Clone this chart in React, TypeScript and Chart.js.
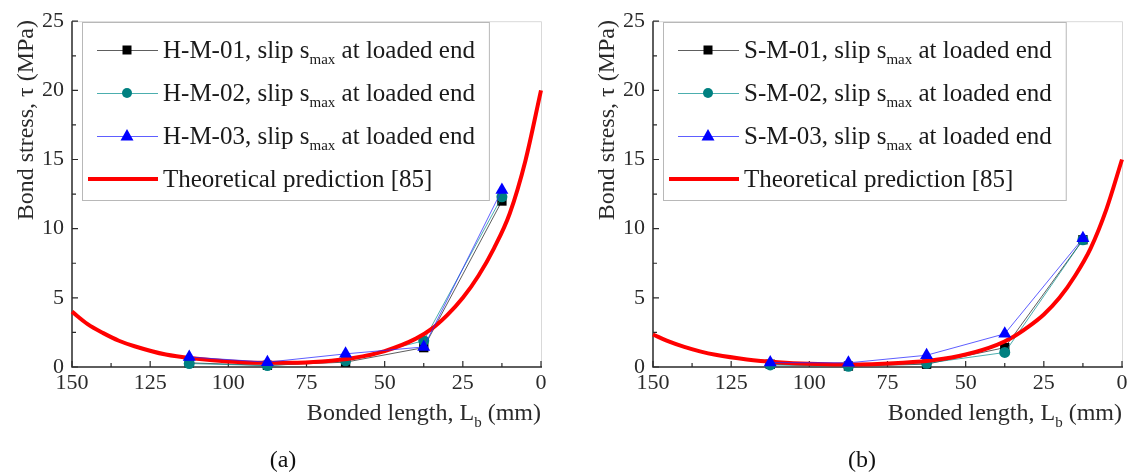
import React, { useEffect, useRef } from "react";
import { Chart, registerables } from "chart.js";

Chart.register(...registerables);

// Bonded positions of the measured points (mm)
const bondedPositions = [112.5, 87.5, 62.5, 37.5, 12.5];

// Panel (a): H-M specimens, bond stress (MPa)
const namesA = ["H-M-01", "H-M-02", "H-M-03"];
const hm01 = [0.3, 0.12, 0.35, 1.4, 12.0];
const hm02 = [0.25, 0.1, 0.45, 1.9, 12.3];
const hm03 = [0.72, 0.35, 0.95, 1.45, 12.8];

// Panel (b): S-M specimens, bond stress (MPa)
const namesB = ["S-M-01", "S-M-02", "S-M-03"];
const sm01 = [0.2, 0.07, 0.2, 1.4, 9.2];
const sm02 = [0.15, 0.05, 0.27, 1.05, 9.2];
const sm03 = [0.32, 0.3, 0.85, 2.4, 9.3];

// Theoretical prediction [85]
const theoryX = [150, 145, 140, 135, 130, 120, 110, 100, 90, 80, 70, 60, 50, 40, 35, 30, 25, 20, 15, 10, 5, 0];
const theoryA = [4.0, 3.1, 2.45, 1.9, 1.5, 0.9, 0.6, 0.4, 0.3, 0.3, 0.4, 0.65, 1.15, 2.05, 2.75, 3.75, 5.0, 6.6, 8.6, 11.1, 14.9, 20.0];
const theoryB = [2.35, 1.85, 1.45, 1.13, 0.88, 0.55, 0.35, 0.23, 0.18, 0.2, 0.3, 0.5, 0.9, 1.6, 2.15, 2.9, 3.8, 5.0, 6.6, 8.6, 11.4, 15.0];

// Axis ticks
const xTicks = [150, 125, 100, 75, 50, 25, 0];
const yTicks = [0, 5, 10, 15, 20, 25];
const xMinorStep = 12.5;
const yMinorStep = 2.5;

const theoryLabel = "Theoretical prediction [85]";
const xTitle = [{ text: "Bonded length, L" }, { text: "b", sub: true }, { text: " (mm)" }];
const yTitle = "Bond stress, \u03c4 (MPa)";

const FONT = '"Liberation Serif", "Times New Roman", serif';
const CANVAS_W = 567;
const CANVAS_H = 476;
const PLOT_TOP = 20;
const PLOT_BOTTOM = 367;

type Part = { text: string; sub?: boolean };

function partsWidth(ctx: CanvasRenderingContext2D, parts: Part[], size: number, subSize: number) {
  let w = 0;
  for (const p of parts) {
    ctx.font = `${p.sub ? subSize : size}px ${FONT}`;
    w += ctx.measureText(p.text).width;
  }
  return w;
}

function drawParts(
  ctx: CanvasRenderingContext2D,
  parts: Part[],
  x: number,
  y: number,
  size: number,
  subSize: number,
  subShift: number,
  color: string
) {
  let cx = x;
  ctx.fillStyle = color;
  ctx.textAlign = "left";
  ctx.textBaseline = "alphabetic";
  for (const p of parts) {
    ctx.font = `${p.sub ? subSize : size}px ${FONT}`;
    ctx.fillText(p.text, cx, p.sub ? y + subShift : y);
    cx += ctx.measureText(p.text).width;
  }
}

type Marker = "rect" | "circle" | "triangle";

function drawMarker(ctx: CanvasRenderingContext2D, kind: Marker, x: number, y: number, color: string) {
  ctx.fillStyle = color;
  ctx.beginPath();
  if (kind === "rect") {
    ctx.rect(x - 4.5, y - 4.5, 9, 9);
  } else if (kind === "circle") {
    ctx.arc(x, y, 5, 0, Math.PI * 2);
  } else {
    ctx.moveTo(x, y - 7);
    ctx.lineTo(x + 6.5, y + 4.5);
    ctx.lineTo(x - 6.5, y + 4.5);
    ctx.closePath();
  }
  ctx.fill();
}

const seriesStyles = [
  { line: "rgba(40,40,40,0.75)", fill: "#000000", marker: "rect" as Marker, radius: 6.6 },
  { line: "rgba(0,140,140,0.7)", fill: "#008080", marker: "circle" as Marker, radius: 5.5 },
  { line: "rgba(40,40,255,0.75)", fill: "#0000ff", marker: "triangle" as Marker, radius: 7.5 },
];

type PanelProps = {
  names: string[];
  series: number[][];
  theory: number[];
  chartLeft: number;
  chartRight: number;
};

function BondChart({ names, series, theory, chartLeft, chartRight }: PanelProps) {
  const ref = useRef<HTMLCanvasElement | null>(null);

  useEffect(() => {
    const canvas = ref.current;
    if (!canvas) return;

    const decorations = {
      id: "decorations",
      beforeDatasetsDraw(chart: any) {
        const { ctx, chartArea } = chart;
        const { left, right, top, bottom } = chartArea;
        const xs = chart.scales.x;
        const ys = chart.scales.y;
        ctx.save();
        // light frame on top and right
        ctx.strokeStyle = "#d9d9d9";
        ctx.lineWidth = 1;
        ctx.beginPath();
        ctx.moveTo(left, top + 0.5);
        ctx.lineTo(right + 0.5, top + 0.5);
        ctx.lineTo(right + 0.5, bottom);
        ctx.stroke();
        // main axes
        ctx.strokeStyle = "#2a2a2a";
        ctx.lineWidth = 1.5;
        ctx.beginPath();
        ctx.moveTo(left, top);
        ctx.lineTo(left, bottom);
        ctx.lineTo(right + 1, bottom);
        ctx.stroke();
        // inward ticks
        ctx.lineWidth = 1.2;
        ctx.beginPath();
        for (let v = 0; v <= 150.001; v += xMinorStep) {
          const px = xs.getPixelForValue(v);
          const len = Math.abs(v % 25) < 1e-6 ? 6 : 4;
          ctx.moveTo(px, bottom);
          ctx.lineTo(px, bottom - len);
        }
        for (let v = 0; v <= 25.001; v += yMinorStep) {
          const py = ys.getPixelForValue(v);
          const len = Math.abs(v % 5) < 1e-6 ? 6 : 4;
          ctx.moveTo(left, py);
          ctx.lineTo(left + len, py);
        }
        ctx.stroke();
        ctx.restore();
      },
      afterDraw(chart: any) {
        const { ctx, chartArea } = chart;
        const { left, right, bottom } = chartArea;
        ctx.save();

        // axis titles
        const titleSize = 24;
        const xw = partsWidth(ctx, xTitle, titleSize, 15);
        drawParts(ctx, xTitle, right - xw, bottom + 53, titleSize, 15, 7, "#2a2a2a");

        ctx.save();
        ctx.font = `${titleSize}px ${FONT}`;
        ctx.translate(left - 45, PLOT_TOP);
        ctx.rotate(-Math.PI / 2);
        ctx.textAlign = "right";
        ctx.textBaseline = "middle";
        ctx.fillStyle = "#2a2a2a";
        ctx.fillText(yTitle, 0, 0);
        ctx.restore();

        // legend
        const legendSize = 25;
        const subSize = 15;
        const rows: Part[][] = names.map((n) => [
          { text: `${n}, slip s` },
          { text: "max", sub: true },
          { text: " at loaded end" },
        ]);
        rows.push([{ text: theoryLabel }]);
        let maxW = 0;
        for (const r of rows) maxW = Math.max(maxW, partsWidth(ctx, r, legendSize, subSize));
        const boxX = left + 10;
        const boxY = 22;
        const textX = boxX + 81;
        const boxW = textX - boxX + maxW + 14;
        const boxH = 178;
        ctx.fillStyle = "#ffffff";
        ctx.fillRect(boxX, boxY, boxW, boxH);
        ctx.strokeStyle = "#b8b8b8";
        ctx.lineWidth = 1;
        ctx.strokeRect(boxX + 0.5, boxY + 0.5, boxW, boxH);

        const rowY = [50, 93, 136, 179];
        rows.forEach((r, i) => {
          const cy = rowY[i];
          if (i < 3) {
            const st = seriesStyles[i];
            ctx.strokeStyle = st.line;
            ctx.lineWidth = 1;
            ctx.beginPath();
            ctx.moveTo(boxX + 15, cy + 0.5);
            ctx.lineTo(boxX + 76, cy + 0.5);
            ctx.stroke();
            drawMarker(ctx, st.marker, boxX + 45, cy, st.fill);
          } else {
            ctx.strokeStyle = "#ff0000";
            ctx.lineWidth = 4;
            ctx.beginPath();
            ctx.moveTo(boxX + 6, cy);
            ctx.lineTo(boxX + 76, cy);
            ctx.stroke();
          }
          drawParts(ctx, r, textX, cy + 8, legendSize, subSize, 6, "#1a1a1a");
        });
        ctx.restore();
      },
    };

    const pointData = (vals: number[]) => bondedPositions.map((x, i) => ({ x, y: vals[i] }));

    const chart = new Chart(canvas, {
      type: "line",
      data: {
        datasets: [
          {
            label: `${names[2]}`,
            data: pointData(series[2]),
            borderColor: seriesStyles[2].line,
            borderWidth: 1,
            pointStyle: "triangle",
            pointRadius: seriesStyles[2].radius,
            pointBackgroundColor: seriesStyles[2].fill,
            pointBorderColor: seriesStyles[2].fill,
            pointBorderWidth: 0,
            order: 0,
          },
          {
            label: theoryLabel,
            data: theoryX.map((x, i) => ({ x, y: theory[i] })),
            borderColor: "#ff0000",
            borderWidth: 4,
            pointRadius: 0,
            cubicInterpolationMode: "monotone",
            order: 1,
          },
          {
            label: `${names[1]}`,
            data: pointData(series[1]),
            borderColor: seriesStyles[1].line,
            borderWidth: 1,
            pointStyle: "circle",
            pointRadius: seriesStyles[1].radius,
            pointBackgroundColor: seriesStyles[1].fill,
            pointBorderColor: seriesStyles[1].fill,
            pointBorderWidth: 0,
            order: 2,
          },
          {
            label: `${names[0]}`,
            data: pointData(series[0]),
            borderColor: seriesStyles[0].line,
            borderWidth: 1,
            pointStyle: "rect",
            pointRadius: seriesStyles[0].radius,
            pointBackgroundColor: seriesStyles[0].fill,
            pointBorderColor: seriesStyles[0].fill,
            pointBorderWidth: 0,
            order: 3,
          },
        ],
      },
      options: {
        animation: false,
        responsive: false,
        devicePixelRatio: 1,
        clip: false,
        layout: {
          padding: { left: 0, top: PLOT_TOP, right: CANVAS_W - chartRight, bottom: 0 },
        },
        plugins: {
          legend: { display: false },
          tooltip: { enabled: false },
        },
        scales: {
          x: {
            type: "linear",
            reverse: true,
            min: 0,
            max: 150,
            afterBuildTicks: (s: any) => {
              s.ticks = xTicks.map((v) => ({ value: v }));
            },
            afterFit: (s: any) => {
              s.height = CANVAS_H - PLOT_BOTTOM;
            },
            grid: { display: false, drawTicks: false },
            border: { display: false },
            ticks: {
              font: { family: FONT, size: 22 },
              color: "#2a2a2a",
              padding: 3,
              maxRotation: 0,
              autoSkip: false,
            },
          },
          y: {
            type: "linear",
            min: 0,
            max: 25,
            afterBuildTicks: (s: any) => {
              s.ticks = yTicks.map((v) => ({ value: v }));
            },
            afterFit: (s: any) => {
              s.width = chartLeft;
            },
            grid: { display: false, drawTicks: false },
            border: { display: false },
            ticks: {
              font: { family: FONT, size: 22 },
              color: "#2a2a2a",
              padding: 8,
              autoSkip: false,
            },
          },
        },
      },
      plugins: [decorations],
    } as any);

    return () => chart.destroy();
  }, [names, series, theory, chartLeft, chartRight]);

  return <canvas ref={ref} width={CANVAS_W} height={CANVAS_H} style={{ display: "block" }} />;
}

const seriesA = [hm01, hm02, hm03];
const seriesB = [sm01, sm02, sm03];

export default function App() {
  useEffect(() => {
    document.body.style.margin = "0";
  }, []);

  const captionStyle: React.CSSProperties = {
    position: "absolute",
    top: 446,
    fontFamily: FONT,
    fontSize: 24,
    color: "#111",
    transform: "translateX(-50%)",
    whiteSpace: "nowrap",
  };

  return (
    <div style={{ position: "relative", width: 1134, height: 476, background: "#fff", overflow: "hidden" }}>
      <div style={{ position: "absolute", left: 0, top: 0 }}>
        <BondChart names={namesA} series={seriesA} theory={theoryA} chartLeft={72} chartRight={541} />
      </div>
      <div style={{ position: "absolute", left: 567, top: 0 }}>
        <BondChart names={namesB} series={seriesB} theory={theoryB} chartLeft={86} chartRight={555} />
      </div>
      <div style={{ ...captionStyle, left: 283 }}>(a)</div>
      <div style={{ ...captionStyle, left: 862 }}>(b)</div>
    </div>
  );
}
